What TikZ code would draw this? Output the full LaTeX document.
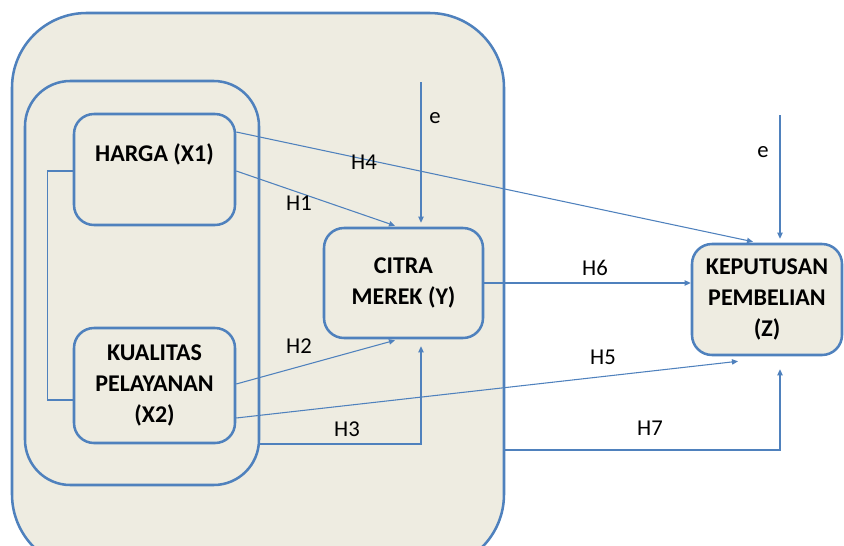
\documentclass[tikz,border=0pt]{standalone}
\usepackage{fontspec}
\setmainfont{Carlito}
\usetikzlibrary{arrows.meta,calc}
\definecolor{lineblue}{HTML}{4F81BD}
\definecolor{panel}{HTML}{EEECE1}
\begin{document}
\begin{tikzpicture}[x=0.75pt,y=-0.75pt,
  frame/.style={draw=lineblue, line width=1.9pt, fill=panel, inner sep=0pt},
  varbox/.style={frame, rounded corners=15pt, align=center,
    font=\bfseries\fontsize{18}{23}\selectfont},
  arr/.style={draw=lineblue, line width=0.8pt,
    -{Triangle[length=4.5pt,width=4pt]}},
  link/.style={draw=lineblue, line width=0.8pt},
  hlab/.style={inner sep=0pt, font=\fontsize{17}{20}\selectfont}
]
\useasboundingbox (0,0) rectangle (844,546);
\clip (0,0) rectangle (844,546);

% outer panel and the group of independent variables
\node[frame, rounded corners=56pt, minimum width=369pt, minimum height=417pt] (outer) at (258,291) {};
\node[frame, rounded corners=34pt, minimum width=175.5pt, minimum height=303pt] (grp) at (142,283) {};

% variables
\node[varbox, minimum width=120.75pt, minimum height=83.25pt] (harga) at (154.5,169.5) {};
\node[inner sep=0pt, font=\bfseries\fontsize{18}{23}\selectfont] (hargatext) at (154.5,154) {HARGA (X1)};
\node[varbox, minimum width=120.75pt, minimum height=86.25pt] (kual) at (154.5,385.5) {KUALITAS\\PELAYANAN\\(X2)};
\node[varbox, minimum width=119.25pt, minimum height=82.5pt] (citra) at (403.5,283) {CITRA\\MEREK (Y)};
\node[varbox, minimum width=112.5pt, minimum height=83.25pt] (kep) at (767,299.5) {KEPUTUSAN\\PEMBELIAN\\(Z)};

% correlation between X1 and X2
\draw[link] ($(harga.west)+(0,1.5)$) -- ++(-25,0) |- ($(kual.west)+(0,14.5)$);

% error terms
\coordinate (e1top) at (421,82);
\coordinate (e2top) at (780,115);
\draw[arr] (e1top) -- ($(citra.north)+(17.5,-4)$);
\draw[arr] (e2top) -- ($(kep.north)+(13,-4)$);

% hypotheses
\draw[arr] ($(harga.east)+(0,1.5)$) -- ($(citra.north)+(-8.5,-1)$);
\draw[arr] ($(harga.east)+(0,-37.5)$) -- ($(kep.north)+(-14,-1)$);
\draw[arr] ($(kual.east)+(0,-1.5)$) -- ($(citra.south)+(-8.5,1)$);
\draw[arr] ($(kual.east)+(0,32.5)$) -- ($(kep.south)+(-29,5)$);
\coordinate (h3start) at ($(grp.east)+(0,161)$);
\draw[arr] (h3start) -| ($(citra.south)+(17.5,7)$);
\draw[arr] (citra.east) -- (citra.east -| kep.west);
\coordinate (h7start) at ($(outer.east)+(0,159)$);
\draw[arr] (h7start) -| ($(kep.south)+(13,13)$);

% labels
\node[hlab] (le1) at (435,118) {e};
\node[hlab] (le2) at (763,152) {e};
\node[hlab] (lh1) at (299,203) {H1};
\node[hlab] (lh2) at (299,346) {H2};
\node[hlab] (lh3) at (347,429) {H3};
\node[hlab] (lh4) at (364,162) {H4};
\node[hlab] (lh5) at (603,357) {H5};
\node[hlab] (lh6) at (595,268) {H6};
\node[hlab] (lh7) at (650,428) {H7};
\end{tikzpicture}
\end{document}
